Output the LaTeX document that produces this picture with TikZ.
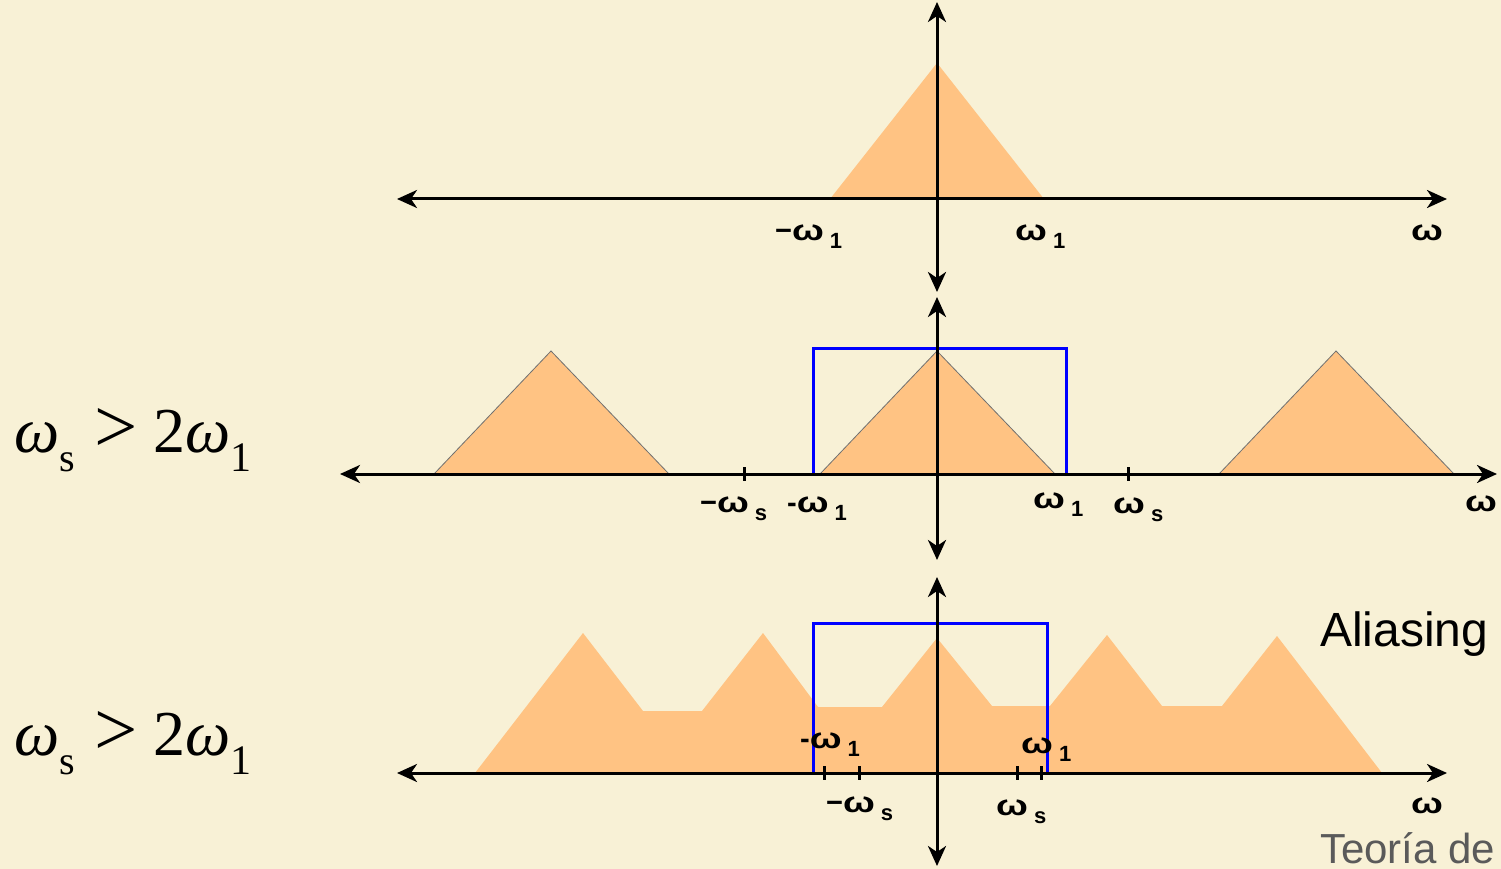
\documentclass[tikz,border=0pt]{standalone}
\usepackage{fontspec}
\usepackage{graphicx}
\setsansfont{Liberation Sans}
\newfontfamily\condfont{Liberation Serif}
\usepackage{xcolor}
\usetikzlibrary{arrows.meta}
\definecolor{bgc}{HTML}{F8F1D6}
\definecolor{specc}{HTML}{FFC383}
\definecolor{edgec}{HTML}{707070}
\definecolor{filtc}{HTML}{0000FF}
\definecolor{footc}{HTML}{5A5A5A}

\newcommand{\wom}{\scalebox{1.3}[1]{ω}}
\newcommand{\wsub}[1]{\wom\hspace{6pt}\raisebox{-0.28em}{\fontsize{22}{22}\selectfont #1}}
\newcommand{\wcond}{{\itshape ω}\raisebox{-0.3em}{\fontsize{40}{40}\selectfont s}\hspace{0.3em}\scalebox{1.2}{>}\hspace{0.25em}2{\itshape ω}\raisebox{-0.3em}{\fontsize{42}{42}\selectfont 1}}

\tikzset{
  axisline/.style={line width=3pt,
    {Stealth[inset=6pt,length=20pt,width=18pt]}-{Stealth[inset=6pt,length=20pt,width=18pt]}},
  tickline/.style={line width=3pt},
  wlab/.style={font=\sffamily\bfseries\fontsize{29}{29}\selectfont, inner sep=0pt, anchor=base west},
  condlab/.style={font=\condfont\fontsize{64}{64}\selectfont, inner sep=0pt, anchor=base west},
  filter/.style={filtc, line width=3pt},
}

\begin{document}
\begin{tikzpicture}[x=1pt,y=-1pt]
  \useasboundingbox (0,0) rectangle (1501,869);
  \fill[bgc] (0,0) rectangle (1501,869);

  % ============================================================
  %                       PARAMETERS
  % ============================================================
  \def\xO{937}      % vertical axis
  \def\yA{199}      % top axis
  \def\yB{474}      % middle axis
  \def\yC{773}      % bottom axis
  \def\tk{7}        % half tick length

  % ============================================================
  %                       TOP: original spectrum
  % ============================================================
  \fill[specc] (830,\yA) -- (\xO,63) -- (1044,\yA) -- cycle;

  \coordinate (aL) at (397,\yA);
  \coordinate (aR) at (1447,\yA);
  \coordinate (aT) at (\xO,2);
  \coordinate (aB) at (\xO,292);
  \draw[axisline] (aL) -- (aR);
  \draw[axisline] (aB) -- (aT);

  \node[wlab] (aw1m) at (775,240) {−\wsub{1}};
  \node[wlab] (aw1p) at (1015,240) {\wsub{1}};
  \node[wlab] (aw)   at (1411,240) {\wom};

  % ============================================================
  %                       MIDDLE: ws > 2 w1
  % ============================================================
  \foreach \c in {551,937,1336} {
    \filldraw[fill=specc, draw=edgec, line width=0.8pt]
      ({\c-117},\yB) -- (\c,351) -- ({\c+118},\yB) -- cycle;
  }
  \draw[filter] (813,\yB) -- (813,348) -- (1066,348) -- (1066,\yB);

  \coordinate (bL) at (340,\yB);
  \coordinate (bR) at (1497,\yB);
  \coordinate (bT) at (\xO,297);
  \coordinate (bB) at (\xO,560);
  \draw[axisline] (bL) -- (bR);
  \draw[axisline] (bB) -- (bT);
  \foreach \t in {744,1128}
    \draw[tickline] (\t,{\yB-\tk}) -- (\t,{\yB+\tk});

  \node[wlab] (bwsm) at (700,512) {−\wsub{s}};
  \node[wlab] (bw1m) at (787,512) {-\wsub{1}};
  \node[wlab] (bw1p) at (1033,508) {\wsub{1}};
  \node[wlab] (bwsp) at (1113,513) {\wsub{s}};
  \node[wlab] (bw)   at (1465,511) {\wom};

  \node[condlab] (condB) at (14,452) {\wcond};

  % ============================================================
  %                       BOTTOM: aliasing
  % ============================================================
  \fill[specc] (475,\yC) -- (583,633) -- (643,711) -- (702,711)
    -- (763,633) -- (818,707) -- (882,707) -- (\xO,638)
    -- (992,706) -- (1050,706) -- (1107,635) -- (1162,706)
    -- (1222,706) -- (1277,636) -- (1382,\yC) -- cycle;
  \draw[filter] (813,\yC) -- (813,623) -- (1047,623) -- (1047,\yC);

  \coordinate (cL) at (397,\yC);
  \coordinate (cR) at (1447,\yC);
  \coordinate (cT) at (\xO,577);
  \coordinate (cB) at (\xO,866);
  \draw[axisline] (cL) -- (cR);
  \draw[axisline] (cB) -- (cT);
  \foreach \t in {824,859,1017,1041}
    \draw[tickline] (\t,{\yC-\tk}) -- (\t,{\yC+\tk});

  \node[wlab] (cw1m) at (800,748) {-\wsub{1}};
  \node[wlab] (cw1p) at (1021,753) {\wsub{1}};
  \node[wlab] (cwsm) at (826,812) {−\wsub{s}};
  \node[wlab] (cwsp) at (996,815) {\wsub{s}};
  \node[wlab] (cw)   at (1411,813) {\wom};

  \node[condlab] (condC) at (14,755) {\wcond};

  \node[font=\sffamily\fontsize{48}{48}\selectfont, inner sep=0pt, anchor=base west]
    (alias) at (1320,646) {Aliasing};
  \node[font=\sffamily\fontsize{42}{42}\selectfont, text=footc, inner sep=0pt, anchor=base west]
    (foot) at (1320,863) {Teoría de};

\end{tikzpicture}
\end{document}
